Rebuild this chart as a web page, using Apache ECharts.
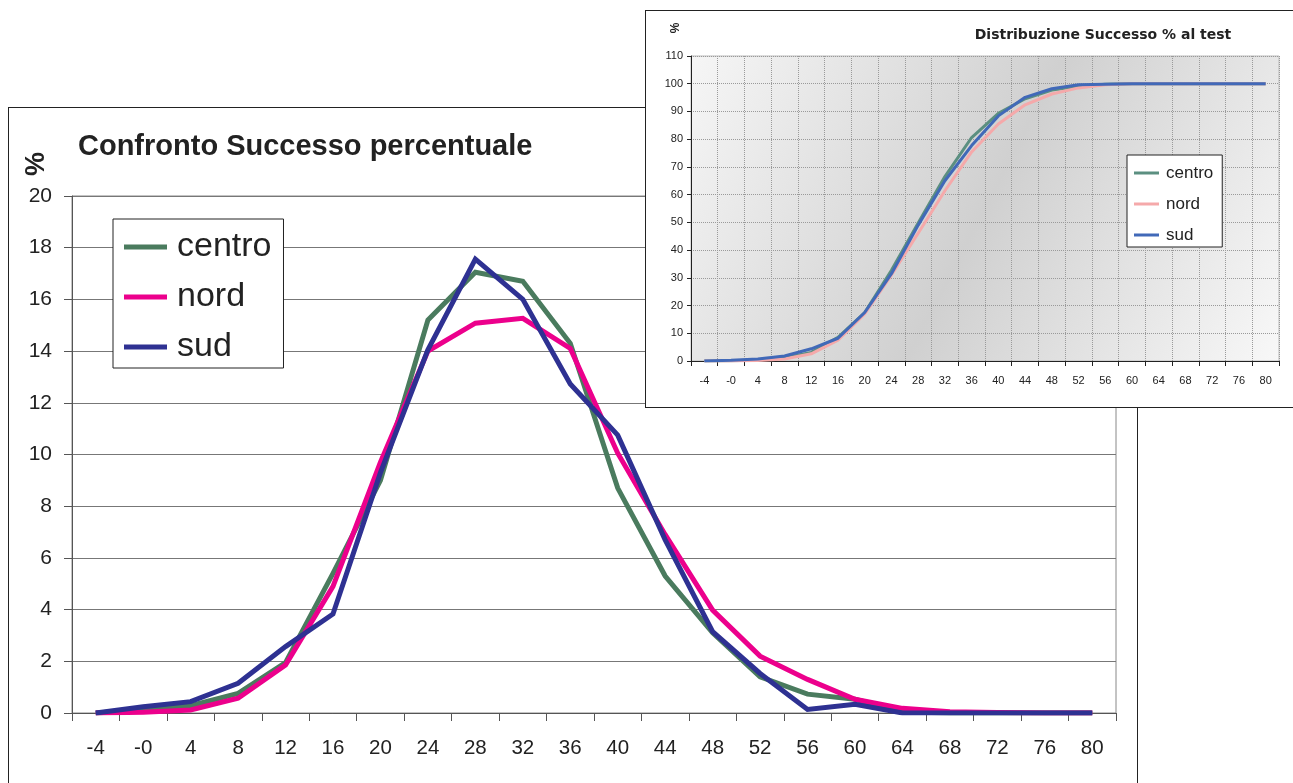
<!DOCTYPE html>
<html>
<head>
<meta charset="utf-8">
<script src="https://cdn.jsdelivr.net/npm/echarts@6/dist/echarts.min.js"></script>
<style>
html,body{margin:0;padding:0;background:#fff;width:1293px;height:783px;overflow:hidden;}
#main{position:absolute;left:8px;top:107px;width:1130px;height:700px;border:1px solid #222;box-sizing:border-box;background:#fff;}
#inset{position:absolute;left:645px;top:10px;width:660px;height:398px;border:1px solid #222;box-sizing:border-box;background:#fff;}
</style>
</head>
<body>
<div id="main"></div>
<div id="inset"></div>
<script>
// ---- data ----
var categories = ['-4','-0','4','8','12','16','20','24','28','32','36','40','44','48','52','56','60','64','68','72','76','80'];
var yTicksMain = [0,2,4,6,8,10,12,14,16,18,20];
var yTicksInset = [0,10,20,30,40,50,60,70,80,90,100,110];

// Confronto Successo percentuale (%)
var centro = [0, 0.12, 0.28, 0.76, 1.95, 5.4, 9.0, 15.2, 17.05, 16.7, 14.3, 8.7, 5.3, 3.1, 1.4, 0.73, 0.53, 0.05, 0, 0, 0, 0];
var nord   = [0, 0.03, 0.12, 0.57, 1.86, 4.9, 9.7, 14.0, 15.08, 15.27, 14.1, 10.05, 6.9, 3.98, 2.2, 1.3, 0.53, 0.18, 0.05, 0.02, 0, 0];
var sud    = [0, 0.24, 0.44, 1.15, 2.57, 3.83, 9.3, 14.05, 17.56, 16.0, 12.73, 10.75, 6.7, 3.15, 1.53, 0.14, 0.34, 0, 0, 0, 0, 0];

// Distribuzione Successo % al test (cumulative %)
var centroCum = [0, 0.1, 0.4, 1.2, 3.1, 8.5, 17.5, 32.7, 49.8, 66.5, 80.6, 89.3, 94.6, 97.7, 99.1, 99.8, 100, 100, 100, 100, 100, 100];
var nordCum   = [0, 0, 0.2, 0.7, 2.6, 7.5, 17.0, 31.0, 46.1, 61.4, 75.4, 85.5, 92.4, 96.3, 98.5, 99.6, 100, 100, 100, 100, 100, 100];
var sudCum    = [0, 0.3, 0.7, 1.8, 4.4, 8.2, 17.5, 31.5, 49.0, 65.0, 77.7, 88.4, 95.1, 98.2, 99.6, 99.8, 100, 100, 100, 100, 100, 100];

var seriesNames = ['centro','nord','sud'];
var mainColors = ['#4a7b5e','#ec008c','#2e3192'];
var insetColors = ['#5b8f80','#f5a9aa','#4169b8'];

var FONT = '"Liberation Sans", Arial, sans-serif';
var WIDE = '"DejaVu Sans", Verdana, sans-serif';

// ---- main chart ----
var main = echarts.init(document.getElementById('main'), null, {renderer:'canvas'});
var mainData = [centro, nord, sud];
main.setOption({
  animation:false,
  textStyle:{fontFamily:FONT},
  title:{text:'Confronto Successo percentuale', left:69, top:24, padding:0,
    textStyle:{fontFamily:FONT, fontSize:29, fontWeight:'bold', color:'#222'}},
  graphic:[{type:'text', x:28, y:56, rotation:Math.PI/2,
    style:{text:'%', font:'bold 27px '+FONT, fill:'#222', textAlign:'center', textVerticalAlign:'middle'}}],
  legend:{orient:'vertical', left:104, top:111, padding:[10,12,3,11], itemGap:14,
    itemWidth:43, itemHeight:5, icon:'rect',
    backgroundColor:'#fff', borderColor:'#222', borderWidth:1,
    textStyle:{fontFamily:FONT, fontSize:34, color:'#222', lineHeight:36, padding:[0,0,0,5]},
    data:seriesNames},
  grid:{left:63, top:88, width:1044, height:517, show:true, borderColor:'#888', borderWidth:1, backgroundColor:'transparent'},
  xAxis:{type:'category', data:categories, boundaryGap:true,
    axisLine:{lineStyle:{color:'#555', width:1}},
    axisTick:{show:true, length:8, lineStyle:{color:'#555'}},
    axisLabel:{fontFamily:FONT, fontSize:20.5, color:'#222', margin:25, interval:0},
    splitLine:{show:false}},
  yAxis:{type:'value', min:yTicksMain[0], max:yTicksMain[yTicksMain.length-1], interval:2,
    axisLine:{show:true, lineStyle:{color:'#555', width:1}},
    axisTick:{show:true, length:8, lineStyle:{color:'#555'}},
    axisLabel:{fontFamily:FONT, fontSize:21, color:'#222', margin:20},
    splitLine:{show:true, lineStyle:{color:'#777', width:1}}},
  series: seriesNames.map(function(n,i){
    return {name:n, type:'line', data:mainData[i], symbol:'none', color:mainColors[i],
      lineStyle:{width:5, color:mainColors[i], join:'miter'}, z:2+i};
  })
});

// ---- inset chart ----
var inset = echarts.init(document.getElementById('inset'), null, {renderer:'canvas'});
var insetData = [centroCum, nordCum, sudCum];
inset.setOption({
  animation:false,
  textStyle:{fontFamily:FONT},
  title:{text:'Distribuzione Successo % al test', left:457, top:17, padding:0, textAlign:'center',
    textStyle:{fontFamily:WIDE, fontSize:14, fontWeight:'bold', color:'#222'}},
  graphic:[{type:'text', x:30, y:17, rotation:Math.PI/2,
    style:{text:'%', font:'bold 12px '+FONT, fill:'#222', textAlign:'center', textVerticalAlign:'middle'}}],
  legend:{orient:'vertical', left:481, top:144, padding:[8,9,2,7], itemGap:11,
    itemWidth:25, itemHeight:3, icon:'rect',
    backgroundColor:'#fff', borderColor:'#222', borderWidth:1,
    textStyle:{fontFamily:FONT, fontSize:17, color:'#222', lineHeight:20, padding:[0,0,0,2]},
    data:seriesNames},
  grid:{left:45, top:45, width:588, height:305, show:true, borderColor:'#bbb', borderWidth:1,
    backgroundColor:new echarts.graphic.LinearGradient(0,0,1,1,[
      {offset:0, color:'#f6f6f6'},{offset:0.5, color:'#d0d0d0'},{offset:1, color:'#f8f8f8'}])},
  xAxis:{type:'category', data:categories, boundaryGap:true,
    axisLine:{lineStyle:{color:'#222', width:1}},
    axisTick:{show:true, length:5, lineStyle:{color:'#222'}},
    axisLabel:{fontFamily:FONT, fontSize:11, color:'#222', margin:14, interval:0},
    splitLine:{show:true, interval:0, lineStyle:{color:'#9a9a9a', type:'dotted', width:1}}},
  yAxis:{type:'value', min:yTicksInset[0], max:yTicksInset[yTicksInset.length-1], interval:10,
    axisLine:{show:true, lineStyle:{color:'#222', width:1}},
    axisTick:{show:true, length:4, lineStyle:{color:'#222'}},
    axisLabel:{fontFamily:FONT, fontSize:11, color:'#222', margin:8},
    splitLine:{show:true, lineStyle:{color:'#9a9a9a', type:'dotted', width:1}}},
  series: seriesNames.map(function(n,i){
    return {name:n, type:'line', data:insetData[i], symbol:'none', color:insetColors[i],
      lineStyle:{width:3, color:insetColors[i]}, z:2+i};
  })
});
</script>
</body>
</html>
